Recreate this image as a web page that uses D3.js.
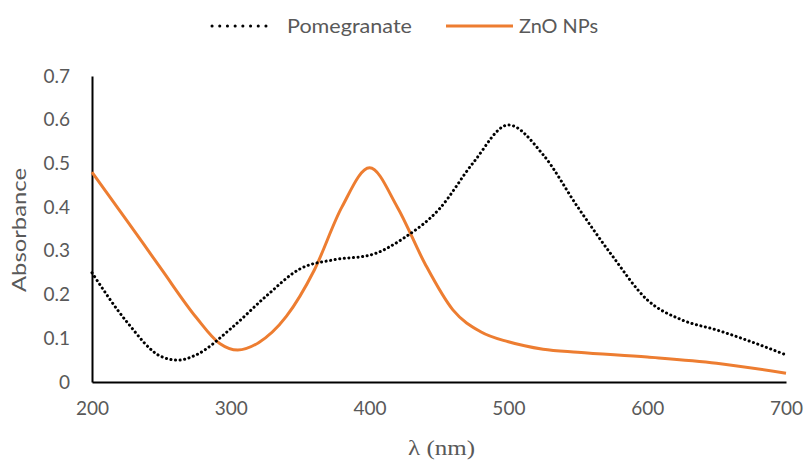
<!DOCTYPE html>
<html>
<head>
<meta charset="utf-8">
<script src="https://cdn.jsdelivr.net/npm/d3@7"></script>
<style>
  body { margin: 0; background: #fff; }
  text { font-family: Lato, "Open Sans", sans-serif; }
</style>
</head>
<body>
<svg id="chart" width="806" height="461"></svg>
<script>
// wavelengths (nm) and absorbance
const pomWave = [200, 225, 250, 262, 275, 300, 325, 350, 375, 400, 425, 450, 475, 500, 525, 550, 575, 600, 625, 650, 675, 700];
const pomAbs  = [0.25, 0.138, 0.058, 0.05, 0.062, 0.122, 0.195, 0.259, 0.28, 0.29, 0.33, 0.395, 0.503, 0.588, 0.52, 0.40, 0.288, 0.188, 0.142, 0.119, 0.092, 0.062];

const znoWave = [200, 225, 250, 275, 292, 305, 320, 340, 360, 380, 400, 420, 440, 460, 480, 500, 525, 550, 600, 650, 700];
const znoAbs  = [0.48, 0.37, 0.258, 0.148, 0.088, 0.073, 0.09, 0.15, 0.255, 0.4, 0.49, 0.4, 0.27, 0.165, 0.115, 0.092, 0.075, 0.068, 0.057, 0.043, 0.02];

const xTicks = [200, 300, 400, 500, 600, 700];
const yTicks = [0, 0.1, 0.2, 0.3, 0.4, 0.5, 0.6, 0.7];

const margin = { top: 76, right: 20, bottom: 79, left: 92 };
const width = 786 - margin.left;
const height = 382 - margin.top;

const svg = d3.select("#chart");
const g = svg.append("g")
    .attr("transform", "translate(" + margin.left + "," + margin.top + ")");

const x = d3.scaleLinear().domain([200, 700]).range([0, width]);
const y = d3.scaleLinear().domain([0, 0.7]).range([height, 0]);

// axes
const xAxis = g.append("g")
    .attr("transform", "translate(0," + height + ")")
    .call(d3.axisBottom(x).tickValues(xTicks).tickSize(0).tickPadding(20));
const yAxis = g.append("g")
    .call(d3.axisLeft(y).tickValues(yTicks).tickSize(0).tickPadding(22)
        .tickFormat(d => d === 0 ? "0" : d3.format(".1f")(d)));

[xAxis, yAxis].forEach(a => {
    a.select(".domain").attr("stroke", "#000").attr("stroke-width", 2);
    a.selectAll("text")
        .attr("fill", "#595959")
        .style("font-size", "19px")
        .style("font-family", "Lato, sans-serif");
});

// axis titles
svg.append("text")
    .attr("x", 408)
    .attr("y", 455)
    .attr("fill", "#595959")
    .attr("textLength", 67)
    .attr("lengthAdjust", "spacingAndGlyphs")
    .style("font-family", "'Liberation Serif', serif")
    .style("font-size", "22px")
    .text("λ (nm)");

svg.append("text")
    .attr("transform", "translate(26," + (margin.top + height / 2 + 1) + ") rotate(-90)")
    .attr("x", -62)
    .attr("fill", "#595959")
    .attr("textLength", 124)
    .attr("lengthAdjust", "spacingAndGlyphs")
    .style("font-size", "19px")
    .text("Absorbance");

const line = d3.line()
    .x(d => x(d[0]))
    .y(d => y(d[1]))
    .curve(d3.curveMonotoneX);

g.append("path")
    .datum(d3.zip(znoWave, znoAbs))
    .attr("fill", "none")
    .attr("stroke", "#ED7D31")
    .attr("stroke-width", 3)
    .attr("d", line);

g.append("path")
    .datum(d3.zip(pomWave, pomAbs))
    .attr("fill", "none")
    .attr("stroke", "#000")
    .attr("stroke-width", 3)
    .attr("stroke-linecap", "round")
    .attr("stroke-dasharray", "0.1 4.5")
    .attr("d", line);

// legend
const legend = svg.append("g");
legend.append("line")
    .attr("x1", 212).attr("x2", 273).attr("y1", 26).attr("y2", 26)
    .attr("stroke", "#000").attr("stroke-width", 3)
    .attr("stroke-linecap", "round").attr("stroke-dasharray", "0.1 7.6");
legend.append("text")
    .attr("x", 287).attr("y", 33)
    .attr("fill", "#595959").style("font-size", "19px")
    .attr("textLength", 125).attr("lengthAdjust", "spacingAndGlyphs")
    .text("Pomegranate");
legend.append("line")
    .attr("x1", 446).attr("x2", 513).attr("y1", 26).attr("y2", 26)
    .attr("stroke", "#ED7D31").attr("stroke-width", 3);
legend.append("text")
    .attr("x", 519).attr("y", 33)
    .attr("fill", "#595959").style("font-size", "19px")
    .attr("textLength", 79).attr("lengthAdjust", "spacingAndGlyphs")
    .text("ZnO NPs");
</script>
</body>
</html>
